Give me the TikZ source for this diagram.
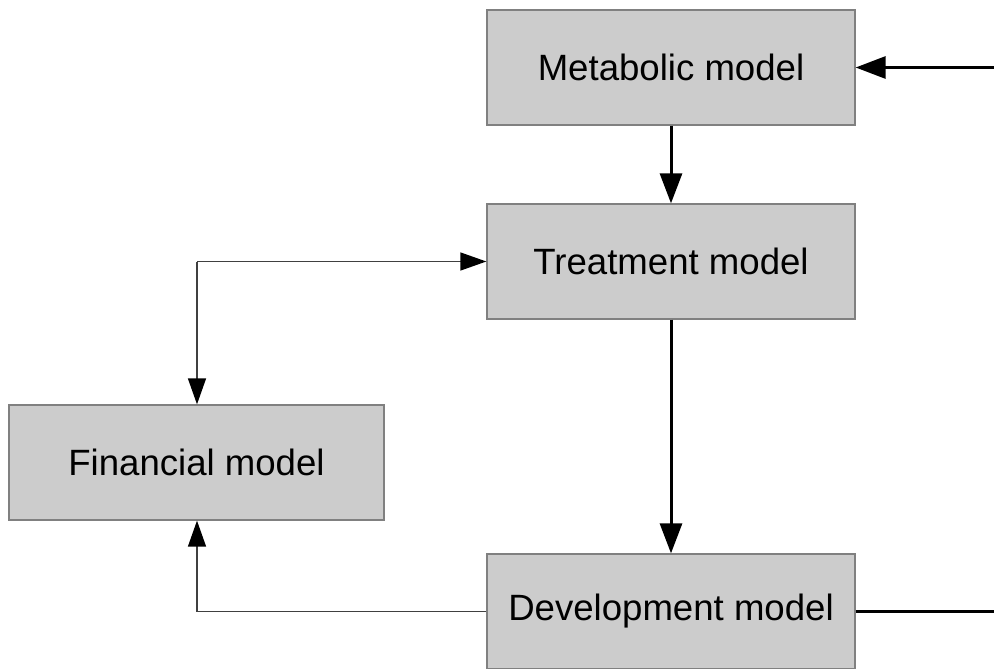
\documentclass[tikz,border=0pt]{standalone}
\usepackage{fontspec}
\setmainfont{Liberation Sans}
\usetikzlibrary{arrows.meta}
\tikzset{
  modelbox/.style={draw=black!50, line width=1.3pt, fill=black!20, minimum width=368pt, minimum height=115pt, inner sep=0pt, font=\fontsize{36.6}{40}\selectfont},
  thickarrow/.style={line width=3pt, black, -{Triangle[length=30pt,width=22pt]}},
  thinarrow/.style={line width=1.4pt, black!75, -{Triangle[length=26pt,width=18pt,color=black]}},
}
\begin{document}
\begin{tikzpicture}[x=1pt,y=-1pt]
\useasboundingbox (0,0) rectangle (994,669);
\node[modelbox] (met) at (671,67.5) {Metabolic model};
\node[modelbox] (tre) at (671,261.5) {Treatment model};
\node[modelbox, minimum width=375pt] (fin) at (196.5,462.5) {Financial model};
\node[modelbox] (dev) at (671,611.5) {Development model};
\coordinate (inr) at (994,67.5);
\coordinate (outr) at (994,611.5);
\coordinate (tl) at (197,261.5);
\coordinate (dl) at (197,611.5);
\draw[thickarrow] (inr) -- (met.east);
\draw[thickarrow] (met.south) -- (tre.north);
\draw[thickarrow] (tre.south) -- (dev.north);
\draw[line width=3pt] (dev.east) -- (outr);
\draw[thinarrow] (tl) -- (tre.west);
\draw[thinarrow] (tl) -- (tl |- fin.north);
\draw[thinarrow] (dev.west) -- (dl) -- (dl |- fin.south);
\end{tikzpicture}
\end{document}
